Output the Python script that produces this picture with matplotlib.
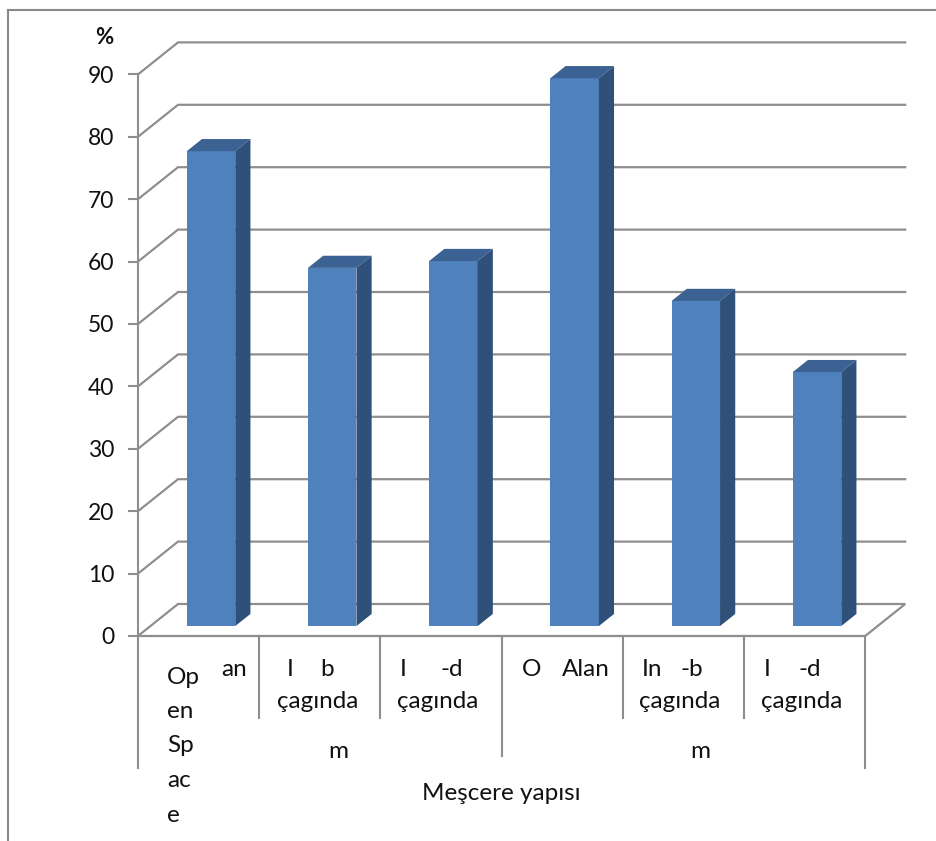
import numpy as np
import matplotlib
matplotlib.use('Agg')
from matplotlib import pyplot as plt
from matplotlib.patches import Polygon
from matplotlib.lines import Line2D

plt.rcParams['font.family'] = ['Lato', 'DejaVu Sans']

# Değerler (%)
values = [76.1, 57.4, 58.5, 87.8, 52.1, 40.7]
y_ticks = list(range(0, 100, 10))

# Kategori etiketleri (üst satır, alt satır) ve grup etiketleri
top_labels = [['an'], ['I', 'b'], ['I', '-d'], ['O', 'Alan'], ['In', '-b'], ['I', '-d']]
bottom_labels = ['', 'çagında', 'çagında', '', 'çagında', 'çagında']
open_space = ['Op', 'en', 'Sp', 'ac', 'e']
group_labels = ['m', 'm']
x_title = 'Meşcere yapısı'
y_title = '%'

W, H = 937, 841
fig = plt.figure(figsize=(W / 100, H / 100), dpi=100)
ax = fig.add_axes([0, 0, 1, 1])

# piksel -> veri ölçeği: kategori genişliği 121.2 px, 10 birim = 62.4 px
x0_px, y0_px, cat_px, unit_px = 138, 636, 121.2, 6.24
ax.set_xlim(-x0_px / cat_px, (W - x0_px) / cat_px)
ax.set_ylim(-(H - y0_px) / unit_px, y0_px / unit_px)

DX = 40 / cat_px      # derinlik kayması (x)
DY = 32 / unit_px     # derinlik kayması (y)
f0, f1 = 0.31, 0.69   # sütunların derinlik konumu
n = len(values)
grid_c = '#8e8e8e'

for s in ['top', 'right', 'bottom']:
    ax.spines[s].set_visible(False)
ax.spines['left'].set_position(('data', 0))
ax.spines['left'].set_bounds(0, 90)
ax.spines['left'].set_color(grid_c)
ax.spines['left'].set_linewidth(1.5)
ax.set_xticks([])
ax.set_yticks(y_ticks)
ax.tick_params(axis='y', length=7, width=1.5, color=grid_c, pad=10,
               labelsize=16.5, labelcolor='#111111')

# arka duvar ızgarası
for v in y_ticks[1:]:
    ax.plot([0, DX, n + DX], [v, v + DY, v + DY], color=grid_c, lw=1.6,
            solid_joinstyle='miter', zorder=1)
# zemin
floor = Polygon([(0, 0), (n, 0), (n + DX, DY), (DX, DY)], closed=True,
                fill=False, edgecolor=grid_c, lw=1.6, zorder=1)
ax.add_patch(floor)

# sütunlar
xs = np.arange(n) + 0.5 + f0 * DX
base = f0 * DY
bw = 0.4
dd, ddy = (f1 - f0) * DX, (f1 - f0) * DY
ax.bar(xs, values, width=bw, bottom=base, color='#4f81bd', zorder=3)
for x, v in zip(xs, values):
    xl, xr, yt = x - bw / 2, x + bw / 2, base + v
    ax.add_patch(Polygon([(xl, yt), (xr, yt), (xr + dd, yt + ddy), (xl + dd, yt + ddy)],
                         closed=True, facecolor='#3b6292', edgecolor='none', zorder=3))
    ax.add_patch(Polygon([(xr, base), (xr + dd, base + ddy), (xr + dd, yt + ddy), (xr, yt)],
                         closed=True, facecolor='#2f5079', edgecolor='none', zorder=3))

# kategori tablosu çizgileri
def py(p):
    return (y0_px - p) / unit_px

ax.plot([0, 0], [0, py(768)], color=grid_c, lw=1.5)
ax.plot([n, n], [0, py(768)], color=grid_c, lw=1.5)
ax.plot([3, 3], [0, py(756)], color=grid_c, lw=1.5)
for k in [1, 2, 4, 5]:
    ax.plot([k, k], [0, py(718)], color=grid_c, lw=1.5)

def px(p):
    return (p - x0_px) / cat_px

fs = 17.5
tc = '#111111'
# üst satır etiketleri
top_pos = [[234], [290, 327], [403, 452], [532, 586], [652, 692], [767, 810]]
for labs, poss in zip(top_labels, top_pos):
    for lab, p in zip(labs, poss):
        ax.text(px(p), py(670), lab, ha='center', va='center', fontsize=fs, color=tc)
bottom_pos = [0, 318, 438, 0, 680, 802]
for lab, p in zip(bottom_labels, bottom_pos):
    if lab:
        ax.text(px(p), py(701), lab, ha='center', va='center', fontsize=fs, color=tc)
for k, lab in enumerate(open_space):
    ax.text(px(167), py(677 + 34.5 * k), lab, ha='left', va='center', fontsize=fs, color=tc)
for lab, p in zip(group_labels, [338, 700]):
    ax.text(px(p), py(752), lab, ha='center', va='center', fontsize=fs, color=tc)
ax.text(px(501), py(794), x_title, ha='center', va='center', fontsize=fs, color=tc)
ax.text(px(104), py(37), y_title, ha='center', va='center', fontsize=16,
        fontweight='bold', color=tc)

# dış çerçeve
fig.add_artist(Line2D([8 / W, 8 / W], [0, 1 - 10 / H], color='#8a8a8a', lw=1.5))
fig.add_artist(Line2D([8 / W, 1], [1 - 10 / H, 1 - 10 / H], color='#8a8a8a', lw=1.5))

plt.savefig('out.png', dpi=100)
